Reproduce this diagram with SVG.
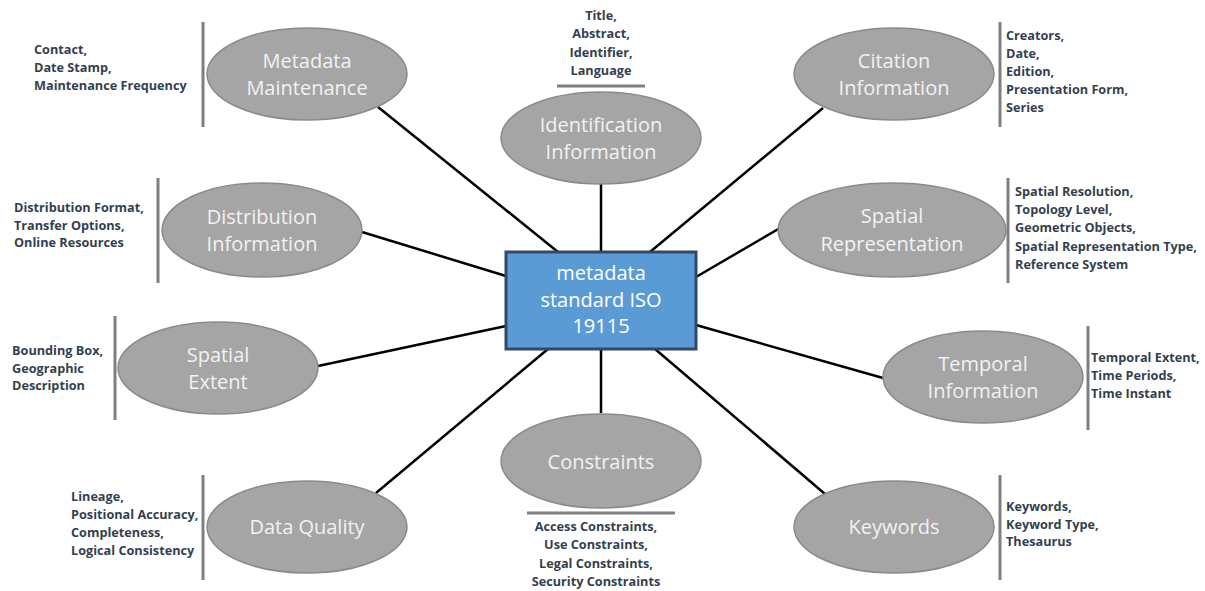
<svg xmlns="http://www.w3.org/2000/svg" width="1205" height="591" viewBox="0 0 1205 591">
<style>
.bg{fill:#ffffff}
.conn line{stroke:#000000;stroke-width:2.5}
.ell{fill:#a5a5a5;stroke:#8a8a8a;stroke-width:1.5}
.lbl{font-family:"Open Sans","Liberation Sans",sans-serif;font-size:20px;fill:#f2f2f2;text-anchor:middle}
.lst{font-family:"Open Sans","Liberation Sans",sans-serif;font-size:12.7px;font-weight:bold;fill:#333f50}
.mid{text-anchor:middle}
.br{stroke:#7f7f7f;stroke-width:3;fill:none}
.box{fill:#5b9bd5;stroke:#2e4a66;stroke-width:3}
.boxt{font-family:"Open Sans","Liberation Sans",sans-serif;font-size:20px;fill:#ffffff;text-anchor:middle}
</style>
<rect class="bg" x="0" y="0" width="1205" height="591"/>
<g id="connectors" class="conn">
<line x1="378" y1="107" x2="558" y2="252"/>
<line x1="601" y1="184" x2="601" y2="252"/>
<line x1="823" y1="108" x2="650" y2="252"/>
<line x1="362" y1="232" x2="506" y2="276"/>
<line x1="780" y1="228" x2="696" y2="277"/>
<line x1="318" y1="366" x2="506" y2="326"/>
<line x1="883" y1="378" x2="696" y2="325"/>
<line x1="376" y1="493" x2="548" y2="349"/>
<line x1="601" y1="349" x2="601" y2="413"/>
<line x1="825" y1="494" x2="655" y2="349"/>
</g>
<g id="center">
<rect class="box" x="506" y="252" width="190" height="97"/>
<text class="boxt" x="601" y="280">metadata</text>
<text class="boxt" x="601" y="307">standard ISO</text>
<text class="boxt" x="601" y="333">19115</text>
</g>
<g id="metadata-maintenance">
<ellipse class="ell" cx="307" cy="74" rx="100" ry="46"/>
<text class="lbl" x="307" y="68">Metadata</text>
<text class="lbl" x="307" y="95">Maintenance</text>
<line class="br" x1="203" y1="22" x2="203" y2="127"/>
<text class="lst" x="34" y="54">Contact,</text>
<text class="lst" x="34" y="72">Date Stamp,</text>
<text class="lst" x="34" y="90">Maintenance Frequency</text>
</g>
<g id="identification">
<ellipse class="ell" cx="601" cy="138" rx="100" ry="46"/>
<text class="lbl" x="601" y="132">Identification</text>
<text class="lbl" x="601" y="159">Information</text>
<line class="br" x1="557" y1="86" x2="645" y2="86"/>
<text class="lst mid" x="601" y="20">Title,</text>
<text class="lst mid" x="601" y="38">Abstract,</text>
<text class="lst mid" x="601" y="57">Identifier,</text>
<text class="lst mid" x="601" y="75">Language</text>
</g>
<g id="citation">
<ellipse class="ell" cx="894" cy="74" rx="100" ry="46"/>
<text class="lbl" x="894" y="68">Citation</text>
<text class="lbl" x="894" y="95">Information</text>
<line class="br" x1="1000" y1="22" x2="1000" y2="127"/>
<text class="lst" x="1006" y="40">Creators,</text>
<text class="lst" x="1006" y="58">Date,</text>
<text class="lst" x="1006" y="76">Edition,</text>
<text class="lst" x="1006" y="94">Presentation Form,</text>
<text class="lst" x="1006" y="112">Series</text>
</g>
<g id="distribution">
<ellipse class="ell" cx="262" cy="230" rx="100" ry="47"/>
<text class="lbl" x="262" y="224">Distribution</text>
<text class="lbl" x="262" y="251">Information</text>
<line class="br" x1="158" y1="178" x2="158" y2="283"/>
<text class="lst" x="14" y="212">Distribution Format,</text>
<text class="lst" x="14" y="230">Transfer Options,</text>
<text class="lst" x="14" y="247">Online Resources</text>
</g>
<g id="spatial-representation">
<ellipse class="ell" cx="892" cy="230" rx="114" ry="47"/>
<text class="lbl" x="892" y="223">Spatial</text>
<text class="lbl" x="892" y="251">Representation</text>
<line class="br" x1="1008" y1="178" x2="1008" y2="283"/>
<text class="lst" x="1015" y="196">Spatial Resolution,</text>
<text class="lst" x="1015" y="214">Topology Level,</text>
<text class="lst" x="1015" y="232">Geometric Objects,</text>
<text class="lst" x="1015" y="251">Spatial Representation Type,</text>
<text class="lst" x="1015" y="269">Reference System</text>
</g>
<g id="spatial-extent">
<ellipse class="ell" cx="218" cy="368" rx="100" ry="46"/>
<text class="lbl" x="218" y="362">Spatial</text>
<text class="lbl" x="218" y="389">Extent</text>
<line class="br" x1="115" y1="316" x2="115" y2="420"/>
<text class="lst" x="12" y="355">Bounding Box,</text>
<text class="lst" x="12" y="373">Geographic</text>
<text class="lst" x="12" y="390">Description</text>
</g>
<g id="temporal">
<ellipse class="ell" cx="983" cy="377" rx="100" ry="46"/>
<text class="lbl" x="983" y="371">Temporal</text>
<text class="lbl" x="983" y="398">Information</text>
<line class="br" x1="1088" y1="326" x2="1088" y2="430"/>
<text class="lst" x="1091" y="362">Temporal Extent,</text>
<text class="lst" x="1091" y="380">Time Periods,</text>
<text class="lst" x="1091" y="398">Time Instant</text>
</g>
<g id="data-quality">
<ellipse class="ell" cx="307" cy="527" rx="100" ry="46"/>
<text class="lbl" x="307" y="534">Data Quality</text>
<line class="br" x1="203" y1="475" x2="203" y2="580"/>
<text class="lst" x="71" y="501">Lineage,</text>
<text class="lst" x="71" y="519">Positional Accuracy,</text>
<text class="lst" x="71" y="537">Completeness,</text>
<text class="lst" x="71" y="555">Logical Consistency</text>
</g>
<g id="constraints">
<ellipse class="ell" cx="601" cy="461" rx="100" ry="47"/>
<text class="lbl" x="601" y="469">Constraints</text>
<line class="br" x1="527" y1="513" x2="675" y2="513"/>
<text class="lst mid" x="596" y="531">Access Constraints,</text>
<text class="lst mid" x="596" y="549">Use Constraints,</text>
<text class="lst mid" x="596" y="568">Legal Constraints,</text>
<text class="lst mid" x="596" y="586">Security Constraints</text>
</g>
<g id="keywords">
<ellipse class="ell" cx="894" cy="527" rx="100" ry="46"/>
<text class="lbl" x="894" y="534">Keywords</text>
<line class="br" x1="1000" y1="475" x2="1000" y2="580"/>
<text class="lst" x="1006" y="511">Keywords,</text>
<text class="lst" x="1006" y="529">Keyword Type,</text>
<text class="lst" x="1006" y="546">Thesaurus</text>
</g>
</svg>
